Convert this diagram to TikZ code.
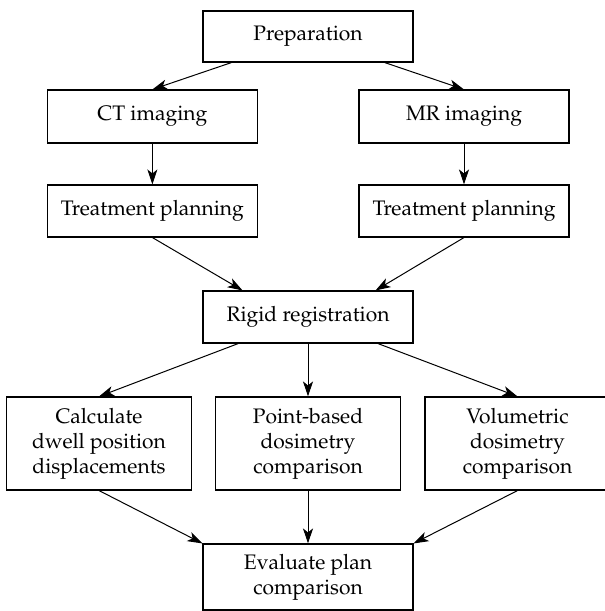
\documentclass[tikz,border=0pt]{standalone}
\usepackage[T1]{fontenc}
\usepackage{mathpazo}
\usetikzlibrary{arrows.meta,calc}
\begin{document}
\begin{tikzpicture}[x=1pt,y=-1pt,
  box/.style={draw, line width=1.1pt, inner sep=0pt, align=center,
    font=\fontsize{21}{25}\selectfont},
  wbox/.style={box, minimum width=210pt, minimum height=52pt},
  rbox/.style={box, minimum width=185pt, minimum height=93pt},
  arr/.style={-{Stealth[length=15pt,width=10pt,inset=4pt]}, line width=1pt}]
\useasboundingbox (0,0) rectangle (605,611);
\clip (0,0) rectangle (605,611);
\fill[white] (0,0) rectangle (605,611);
\node[wbox, minimum height=51pt] (prep) at (308,36.5) {Preparation};
\node[wbox, minimum height=53pt] (ct) at (152.4,116.5) {CT imaging};
\node[wbox, minimum height=53pt] (mr) at (464,116.5) {MR imaging};
\node[wbox] (tpl) at (152.4,211) {Treatment planning};
\node[wbox] (tpr) at (464,211) {Treatment planning};
\node[wbox] (rigid) at (308,317) {Rigid registration};
\node[rbox] (calc) at (99,443.5) {Calculate\\dwell position\\displacements};
\node[rbox] (point) at (308,443.5) {Point-based\\dosimetry\\comparison};
\node[rbox] (vol) at (517.5,443.5) {Volumetric\\dosimetry\\comparison};
\node[wbox, minimum height=66pt] (eval) at (308,577) {Evaluate plan\\comparison};
\draw[arr] (prep) -- (ct.north);
\draw[arr] (prep) -- (mr.north);
\draw[arr] (ct.south) -- (tpl.north);
\draw[arr] (mr.south) -- (tpr.north);
\draw[arr] (tpl.south) -- ($(rigid.north)!0.62!(rigid.north west)$);
\draw[arr] (tpr.south) -- ($(rigid.north)!0.64!(rigid.north east)$);
\draw[arr] (rigid) -- (calc.north);
\draw[arr] (rigid.south) -- (point.north);
\draw[arr] (rigid) -- (vol.north);
\draw[arr] (calc.south) -- (eval.north west);
\draw[arr] (point.south) -- (eval.north);
\draw[arr] (vol.south) -- (eval.north east);
\end{tikzpicture}
\end{document}
